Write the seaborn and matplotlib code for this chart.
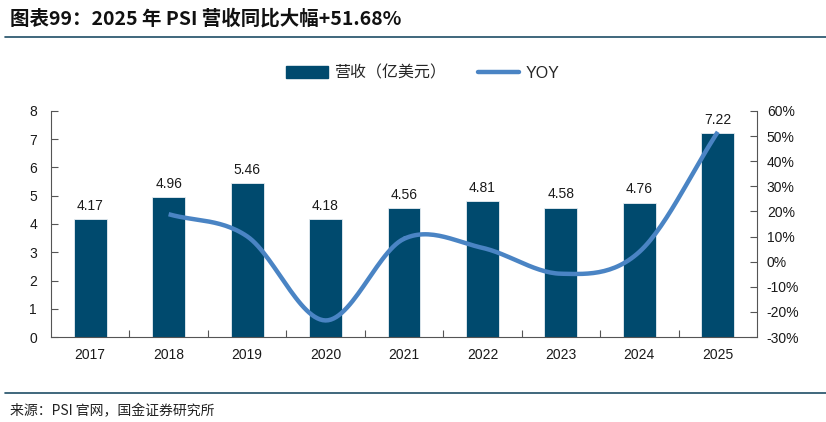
import numpy as np
import pandas as pd
import matplotlib
matplotlib.use("Agg")
import matplotlib.pyplot as plt
import seaborn as sns
from matplotlib.lines import Line2D
from matplotlib.patches import Patch
from matplotlib.ticker import FuncFormatter, FixedLocator

years = ["2017", "2018", "2019", "2020", "2021", "2022", "2023", "2024", "2025"]
revenue = [4.17, 4.96, 5.46, 4.18, 4.56, 4.81, 4.58, 4.76, 7.22]
yoy_years = ["2018", "2019", "2020", "2021", "2022", "2023", "2024", "2025"]
yoy = [18.9, 10.1, -23.4, 9.1, 5.5, -4.8, 3.9, 51.68]

title = "图表99：2025 年 PSI 营收同比大幅+51.68%"
source = "来源：PSI 官网，国金证券研究所"
bar_label = "营收（亿美元）"
line_label = "YOY"

BAR = "#004A6E"
LINE = "#4A84C4"
DARK = "#1F4E66"

sns.set_theme(style="white")
plt.rcParams['font.family'] = ['Liberation Sans', 'Noto Sans CJK SC', 'DejaVu Sans']

fig = plt.figure(figsize=(8.26, 4.22), dpi=100)
ax = fig.add_axes([0.0617, 0.2014, 0.8548, 0.5356])

df = pd.DataFrame({"year": years, "rev": revenue})
sns.barplot(data=df, x="year", y="rev", color=BAR, width=0.42, saturation=1, ax=ax)
for p in ax.patches:
    p.set_edgecolor("#E8EEF2")
    p.set_linewidth(0.6)

for i, v in enumerate(revenue):
    ax.text(i, v + 0.22, f"{v:.2f}", ha="center", va="bottom", fontsize=10, color="#1a1a1a")

ax.set_ylim(0, 8)
ax.set_xlim(-0.5, len(years) - 0.5)
ax.set_yticks(range(0, 9))
ax.set_xlabel("")
ax.set_ylabel("")
ax.xaxis.set_minor_locator(FixedLocator(np.arange(0.5, len(years) - 0.5, 1)))
ax.tick_params(axis="x", which="major", length=0, labelsize=10, pad=8, colors="#1a1a1a")
ax.tick_params(axis="x", which="minor", direction="in", length=5, width=0.8, color="#555555", bottom=True)
ax.tick_params(axis="y", direction="in", length=5, width=0.8, color="#555555", labelsize=10, left=True, pad=10, labelcolor="#1a1a1a")
for s in ["top", "right"]:
    ax.spines[s].set_visible(False)
for s in ["left", "bottom"]:
    ax.spines[s].set_color("#555555")
    ax.spines[s].set_linewidth(0.8)

ax2 = ax.twinx()
xs = np.array([years.index(y) for y in yoy_years], dtype=float)
ys = np.array(yoy, dtype=float)
# Catmull-Rom smoothing for drawing the line through data points
P = np.column_stack([xs, ys])
P_ext = np.vstack([2 * P[0] - P[1], P, 2 * P[-1] - P[-2]])
curve = []
tt = np.linspace(0, 1, 30)
for k in range(1, len(P_ext) - 2):
    p0, p1, p2, p3 = P_ext[k - 1], P_ext[k], P_ext[k + 1], P_ext[k + 2]
    for t in tt:
        c = 0.5 * ((2 * p1) + (-p0 + p2) * t + (2 * p0 - 5 * p1 + 4 * p2 - p3) * t ** 2
                   + (-p0 + 3 * p1 - 3 * p2 + p3) * t ** 3)
        curve.append(c)
curve = np.array(curve)
ax2.plot(curve[:, 0], curve[:, 1], color=LINE, lw=3.2, solid_capstyle="butt")
ax2.set_ylim(-30, 60)
ax2.set_yticks(range(-30, 61, 10))
ax2.yaxis.set_major_formatter(FuncFormatter(lambda v, _: f"{int(v)}%"))
ax2.tick_params(axis="y", direction="in", length=5, width=0.8, color="#555555", labelsize=10, right=True, pad=7, labelcolor="#1a1a1a")
for s in ["top", "left", "bottom"]:
    ax2.spines[s].set_visible(False)
ax2.spines["right"].set_color("#555555")
ax2.spines["right"].set_linewidth(0.8)
ax2.grid(False)
ax.grid(False)

handles = [Patch(facecolor=BAR, edgecolor=BAR), Line2D([0], [0], color=LINE, lw=3.2)]
fig.legend(handles, [bar_label, line_label], loc="center", bbox_to_anchor=(0.512, 0.827),
           ncol=2, frameon=False, fontsize=11.5, handlelength=2.6, handleheight=0.75,
           columnspacing=2.0, handletextpad=0.4)

fig.text(0.012, 0.955, title, fontsize=14, fontweight="bold", style="italic",
         family=['Noto Sans CJK SC', 'DejaVu Sans'], ha="left", va="center", color="#111111")
fig.add_artist(Line2D([0.006, 1.0], [0.912, 0.912], color=DARK, lw=1.2, transform=fig.transFigure))
fig.add_artist(Line2D([0.006, 1.0], [0.069, 0.069], color=DARK, lw=1.2, transform=fig.transFigure))
fig.text(0.012, 0.025, source, fontsize=10, family=['Noto Sans CJK SC', 'DejaVu Sans'],
         ha="left", va="center", color="#222222")

fig.savefig("out.png", dpi=100)
